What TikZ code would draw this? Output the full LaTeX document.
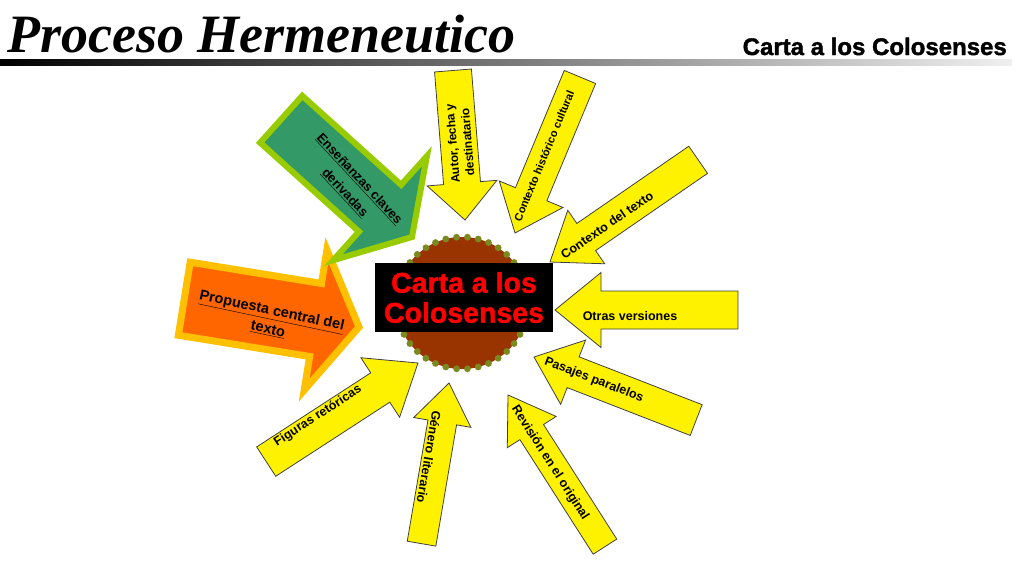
\documentclass[tikz,border=0pt]{standalone}
\usepackage{fontspec}
\setmainfont{Liberation Sans}
\newfontfamily\titlefont{Liberation Serif}
\newfontfamily\heavyfont[FakeBold=1.6]{Liberation Sans Bold}
\definecolor{leafgreen}{HTML}{339966}
\definecolor{limeborder}{HTML}{99CC00}
\definecolor{fireorange}{HTML}{FF6600}
\definecolor{goldborder}{HTML}{FFC000}
\definecolor{cartabrown}{HTML}{993300}
\definecolor{dotolive}{HTML}{7A8A1E}
\tikzset{
    yellow arrow/.style={fill=yellow, draw=black!75, line width=0.8pt, line join=miter},
    green arrow/.style={fill=leafgreen, draw=limeborder, line width=6pt, line join=miter},
    orange arrow/.style={fill=fireorange, draw=goldborder, line width=7pt, line join=miter},
    label text/.style={font=\bfseries\fontsize{12.5}{14}\selectfont, align=center, inner sep=0pt},
    big label/.style={font=\bfseries\fontsize{14.5}{19}\selectfont, align=center, inner sep=0pt}
}
% block arrow: style, tip, angle, length, shaft width, head width, head length
\newcommand{\blockarrow}[7]{%
  \begin{scope}[shift={#2}, rotate=#3]
    \draw[#1] (0,0) -- (-#7,#6/2) -- (-#7,#5/2) -- (-#4,#5/2)
      -- (-#4,-#5/2) -- (-#7,-#5/2) -- (-#7,-#6/2) -- cycle;
  \end{scope}}

\begin{document}
\begin{tikzpicture}[x=1pt, y=-1pt]
\useasboundingbox (0,0) rectangle (1024,576);

% heading
\node[anchor=base west, inner sep=0pt,
  font=\titlefont\bfseries\itshape\fontsize{54}{54}\selectfont] (title) at (7,52) {Proceso Hermeneutico};
\node[anchor=base east, inner sep=0pt,
  font=\heavyfont\fontsize{24}{24}\selectfont] (subtitle) at (1007,55) {Carta a los Colosenses};
\shade[left color=black, right color=gray!12] (0,59) rectangle (1012,65);

% centre: brown seal with dots
\fill[cartabrown] (462,303) circle[radius=66];
\foreach \i in {1,...,38}
  \fill[dotolive] (462,303) ++(\i*360/38:66) circle[radius=3.4];
\node[fill=black, minimum width=178pt, minimum height=69pt, inner sep=0pt,
  text=red, align=center, font=\heavyfont\fontsize{28.5}{30}\selectfont] (carta) at (464,297.5) {Carta a los\\Colosenses};

% yellow arrows
\blockarrow{yellow arrow}{(465,220)}{-85.4}{150}{37}{70}{37}
\blockarrow{yellow arrow}{(515,233)}{-112.6}{169}{34}{69}{42}
\blockarrow{yellow arrow}{(550,262)}{-145.4}{180}{33}{65}{44}
\blockarrow{yellow arrow}{(555,310)}{180}{183}{38}{75}{46}
\blockarrow{yellow arrow}{(534,357)}{158.75}{174}{33}{69}{42}
\blockarrow{yellow arrow}{(508,395)}{122.6}{180}{28}{58}{44}
\blockarrow{yellow arrow}{(449,383)}{80.3}{163}{29}{58}{40}
\blockarrow{yellow arrow}{(418,363)}{33}{181}{35}{71}{45}

\node[label text, font=\bfseries\fontsize{12}{15}\selectfont, rotate=94.6] (autor) at (460,143) {Autor, fecha y\\destinatario};
\node[label text, font=\bfseries\fontsize{11}{13}\selectfont, rotate=67.4] (historico) at (544,156) {Contexto histórico cultural};
\node[label text, rotate=34.6] (contexto) at (607,225) {Contexto del texto};
\node[label text] (otras) at (630,316) {Otras versiones};
\node[label text, rotate=-21.25] (pasajes) at (594,380) {Pasajes paralelos};
\node[label text, rotate=-57.4] (revision) at (550,463) {Revisión en el original};
\node[label text, rotate=-99.7] (genero) at (429,457) {Género literario};
\node[label text, rotate=33] (figuras) at (318,416) {Figuras retóricas};

% big arrows
\blockarrow{orange arrow}{(359,327)}{-9.2}{177}{74}{142}{44}
\node[big label, rotate=-12] (propuesta) at (270,320) {\underline{Propuesta central del}\\\underline{texto}};
\blockarrow{green arrow}{(412,237)}{-42}{176}{63}{140}{43}
\node[big label, font=\bfseries\fontsize{13}{20}\selectfont, rotate=-47] (ensenanzas) at (352,186) {\underline{Enseñanzas claves}\\\underline{derivadas}};

\end{tikzpicture}
\end{document}
